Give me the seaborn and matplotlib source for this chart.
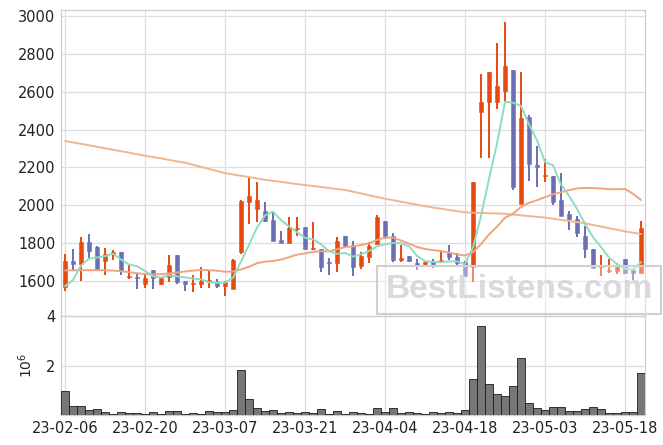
import numpy as np
import pandas as pd
import matplotlib
matplotlib.use('Agg')
import matplotlib.pyplot as plt
import seaborn as sns

# ---------------- data ----------------
opens = [1570, 1705, 1688, 1804, 1778, 1707, 1741, 1752, 1621, 1617,
         1586, 1658, 1584, 1623, 1737, 1600, 1583, 1583, 1593, 1588,
         1575, 1558, 1752, 2019, 1980, 1971, 1922, 1818, 1800, 1875,
         1884, 1768, 1769, 1700, 1697, 1838, 1790, 1681, 1729, 1796,
         1917, 1838, 1711, 1734, 1697, 1688, 1702, 1699, 1749, 1728,
         1699, 1672, 2494, 2544, 2547, 2603, 2715, 2006, 2465, 2212,
         2155, 2156, 2029, 1954, 1928, 1838, 1769, 1672, 1651, 1654,
         1714, 1658, 1644]
closes = [1705, 1688, 1804, 1758, 1663, 1741, 1752, 1655, 1626, 1614,
          1617, 1614, 1618, 1685, 1593, 1583, 1585, 1600, 1605, 1575,
          1596, 1711, 2023, 2049, 2029, 1919, 1813, 1800, 1882, 1878,
          1768, 1771, 1672, 1697, 1811, 1787, 1676, 1732, 1785, 1937,
          1838, 1711, 1724, 1707, 1685, 1700, 1690, 1711, 1728, 1693,
          1628, 2125, 2544, 2703, 2630, 2735, 2099, 2460, 2217, 2202,
          2160, 2019, 1946, 1928, 1852, 1767, 1667, 1679, 1654, 1679,
          1644, 1644, 1878]
highs = [1741, 1767, 1831, 1847, 1786, 1776, 1762, 1752, 1688, 1640,
         1632, 1658, 1620, 1737, 1737, 1600, 1632, 1674, 1653, 1611,
         1600, 1715, 2030, 2151, 2121, 2019, 1971, 1866, 1937, 1937,
         1884, 1910, 1769, 1723, 1834, 1838, 1813, 1755, 1808, 1949,
         1917, 1852, 1789, 1734, 1716, 1700, 1716, 1752, 1790, 1748,
         1705, 2125, 2692, 2703, 2855, 2970, 2715, 2703, 2477, 2315,
         2243, 2156, 2169, 1971, 1945, 1890, 1769, 1737, 1714, 1697,
         1714, 1658, 1918]
lows = [1549, 1653, 1600, 1723, 1660, 1632, 1713, 1632, 1611, 1556,
        1563, 1556, 1580, 1596, 1583, 1547, 1541, 1565, 1565, 1565,
        1522, 1558, 1745, 1900, 1910, 1913, 1813, 1800, 1800, 1839,
        1768, 1764, 1646, 1632, 1646, 1780, 1627, 1662, 1697, 1796,
        1820, 1702, 1699, 1700, 1658, 1685, 1670, 1694, 1711, 1685,
        1620, 1593, 2251, 2251, 2507, 2552, 2081, 2006, 2128, 2099,
        2125, 2001, 1946, 1869, 1831, 1720, 1667, 1626, 1641, 1637,
        1644, 1605, 1644]
volume_m = [0.98, 0.38, 0.38, 0.20, 0.24, 0.12, 0.04, 0.12, 0.08, 0.08,
            0.03, 0.12, 0.04, 0.16, 0.16, 0.04, 0.08, 0.04, 0.16, 0.12,
            0.12, 0.20, 1.80, 0.63, 0.27, 0.16, 0.20, 0.08, 0.12, 0.08,
            0.12, 0.08, 0.24, 0.03, 0.16, 0.04, 0.12, 0.08, 0.03, 0.27,
            0.12, 0.27, 0.08, 0.12, 0.08, 0.04, 0.12, 0.08, 0.12, 0.08,
            0.20, 1.45, 3.60, 1.25, 0.86, 0.75, 1.18, 2.31, 0.47, 0.27,
            0.20, 0.31, 0.31, 0.16, 0.16, 0.24, 0.31, 0.24, 0.08, 0.08,
            0.12, 0.12, 1.69]
ma5 = [1572, 1605, 1682, 1718, 1724, 1731, 1744, 1714, 1687, 1678,
       1653, 1625, 1618, 1630, 1625, 1619, 1613, 1609, 1593, 1590,
       1592, 1617, 1702, 1791, 1882, 1946, 1967, 1922, 1889, 1858,
       1828, 1820, 1794, 1757, 1744, 1748, 1729, 1741, 1758, 1783,
       1794, 1801, 1799, 1783, 1733, 1705, 1701, 1699, 1703, 1704,
       1690, 1777, 1944, 2139, 2326, 2547, 2542, 2525, 2428, 2343,
       2228, 2212, 2109, 2051, 1981, 1902, 1832, 1779, 1724, 1689,
       1665, 1660, 1700]
ma20 = [1656, 1656, 1657, 1657, 1657, 1656, 1655, 1652, 1647, 1641,
        1637, 1635, 1636, 1640, 1645, 1650, 1655, 1658, 1657, 1654,
        1649, 1650, 1661, 1675, 1694, 1702, 1706, 1713, 1726, 1739,
        1746, 1754, 1757, 1757, 1768, 1779, 1783, 1790, 1799, 1817,
        1829, 1829, 1814, 1797, 1780, 1769, 1763, 1758, 1750, 1741,
        1734, 1752, 1795, 1846, 1887, 1934, 1955, 1992, 2013, 2027,
        2043, 2058, 2069, 2080, 2089, 2092, 2091, 2089, 2085, 2085,
        2086, 2061, 2028]
ma_long = [2340, 2332, 2325, 2317, 2309, 2301, 2294, 2286, 2278, 2270,
           2262, 2255, 2248, 2240, 2232, 2225, 2214, 2203, 2192, 2181,
           2170, 2163, 2156, 2149, 2142, 2135, 2129, 2124, 2118, 2112,
           2107, 2102, 2097, 2091, 2086, 2081, 2072, 2063, 2053, 2044,
           2035, 2027, 2019, 2011, 2003, 1995, 1988, 1982, 1975, 1969,
           1963, 1961, 1960, 1958, 1957, 1955, 1951, 1947, 1943, 1939,
           1935, 1929, 1923, 1917, 1911, 1905, 1896, 1888, 1879, 1871,
           1862, 1855, 1848]
tick_pos = [0, 10, 20, 30, 40, 50, 60, 70]
tick_labels = ['23-02-06', '23-02-20', '23-03-07', '23-03-21',
               '23-04-04', '23-04-18', '23-05-03', '23-05-18']
price_ticks = [1600, 1800, 2000, 2200, 2400, 2600, 2800, 3000]
vol_ticks = [2, 4]

# ---------------- style ----------------
UP = '#e8490f'
DOWN = '#6b6fb3'
C_MA5 = '#8edcc2'
C_MA20 = '#f0a47e'
C_LONG = '#efb78e'
GRID = '#dedede'

sns.set_theme(style='white')
plt.rcParams['font.family'] = ['Liberation Sans Narrow', 'DejaVu Sans']

df = pd.DataFrame({
    'i': np.arange(len(closes)),
    'open': opens, 'close': closes, 'high': highs, 'low': lows,
    'vol': volume_m, 'ma5': ma5, 'ma20': ma20, 'ma_long': ma_long,
})
df['up'] = df['close'] >= df['open']
df['color'] = np.where(df['up'], UP, DOWN)
df['body_lo'] = df[['open', 'close']].min(axis=1)
df['body_h'] = (df['close'] - df['open']).abs().clip(lower=5)

W, H = 663, 445
fig = plt.figure(figsize=(W / 100, H / 100), dpi=100)
fig.patch.set_facecolor('white')
ax = fig.add_axes([61 / W, (H - 316) / H, 584 / W, 306 / H])
axv = fig.add_axes([61 / W, (H - 415) / H, 584 / W, 99 / H])

# ---------------- price panel ----------------
ax.set_axisbelow(True)
ax.vlines(df['i'], df['low'], df['high'], colors=df['color'], lw=1.4, zorder=3)
ax.bar(df['i'], df['body_h'], bottom=df['body_lo'], width=0.62,
       color=df['color'], edgecolor=df['color'], lw=0.4, zorder=4)
sns.lineplot(data=df, x='i', y='ma_long', ax=ax, color=C_LONG, lw=1.4, zorder=5)
sns.lineplot(data=df, x='i', y='ma20', ax=ax, color=C_MA20, lw=1.4, zorder=5)
sns.lineplot(data=df, x='i', y='ma5', ax=ax, color=C_MA5, lw=1.4, zorder=6)

ax.set_xlim(-0.5, len(closes) - 0.5)
ax.set_ylim(1415, 3032)
ax.set_yticks(price_ticks)
ax.set_xticks(tick_pos)
ax.set_xticklabels([])
ax.set_xlabel('')
ax.set_ylabel('')
ax.grid(True, color=GRID, lw=0.9)
ax.tick_params(axis='both', length=0, pad=4, labelsize=10.5, colors='#222222')
for s in ax.spines.values():
    s.set_color('#cfcfcf')
    s.set_linewidth(0.9)

# ---------------- volume panel ----------------
axv.set_axisbelow(True)
sns.barplot(data=df, x='i', y='vol', ax=axv, color='#777777', saturation=1,
            edgecolor='#1a1a1a', linewidth=0.6, width=1.0, zorder=3)
axv.set_xlim(-0.5, len(closes) - 0.5)
axv.set_ylim(0, 4)
axv.set_yticks(vol_ticks)
axv.set_xticks(tick_pos)
axv.set_xticklabels(tick_labels)
axv.set_xlabel('')
axv.set_ylabel(r'$10^6$', fontsize=10, labelpad=8, color='#222222')
axv.grid(True, color=GRID, lw=0.9)
axv.tick_params(axis='both', length=0, pad=4, labelsize=10.5, colors='#222222')
for s in axv.spines.values():
    s.set_color('#cfcfcf')
    s.set_linewidth(0.9)

# ---------------- watermark ----------------
fig.text(519 / W, 1 - 290 / H, 'BestListens.com', ha='center', va='center',
         fontsize=24, fontweight='bold', color='#d6d6d6', alpha=0.9,
         family=['Liberation Sans', 'DejaVu Sans'], zorder=10,
         bbox=dict(boxstyle='square,pad=0.25', fc=(1, 1, 1, 0.35),
                   ec='#d0d0d0', lw=1.5))

fig.savefig('out.png', dpi=100, facecolor='white')
